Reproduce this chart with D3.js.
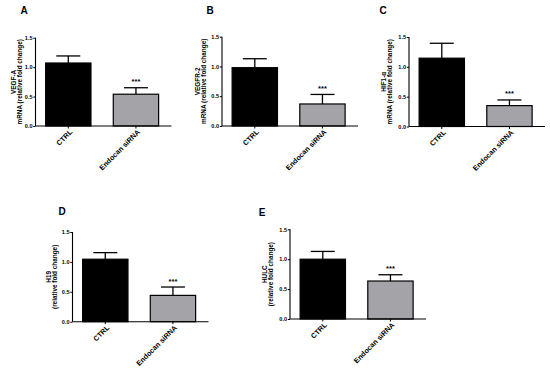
<!DOCTYPE html>
<html>
<head>
<meta charset="utf-8">
<script src="https://cdn.jsdelivr.net/npm/d3@7/dist/d3.min.js"></script>
<style>
	body { margin: 0; background: #fff; }
	svg { display: block; font-family: "Liberation Sans", Arial, sans-serif; font-weight: bold; }
</style>
</head>
<body>
<div id="chart"></div>
<script>
/* globals d3: false */

var w = 550;
var h = 371;

// data
var panel_letters = ["A", "B", "C", "D", "E"];
var gene_labels = ["VEGF-A", "VEGFR-2", "HIF1-\u03b1", "H19", "HULC"];
var unit_labels = ["mRNA (relative fold change)", "mRNA (relative fold change)", "mRNA (relative fold change)",
	"(relative fold change)", "(relative fold change)"];
var groups = ["CTRL", "Endocan siRNA"];
var ctrl_mean = [1.07, 0.98, 1.145, 1.045, 1.0];
var ctrl_err = [0.12, 0.15, 0.25, 0.11, 0.13];
var sirna_mean = [0.54, 0.37, 0.35, 0.44, 0.635];
var sirna_err = [0.11, 0.16, 0.095, 0.14, 0.105];
var y_ticks = [0, 0.5, 1.0, 1.5];
var sig_label = "***";

// panel placement (axis origin x, y of 0, y of 1.5, y-label offset, letter position)
var layout = [
	{x: 35.5, y0: 126, y1: 37.7, lab: 15.5, lx: 24, ly: 10},
	{x: 222, y0: 126, y1: 36.7, lab: 18.5, lx: 210, ly: 10},
	{x: 409, y0: 126.5, y1: 37, lab: 19.5, lx: 383, ly: 10},
	{x: 72.5, y0: 321.7, y1: 232, lab: 18, lx: 62, ly: 211},
	{x: 290, y0: 319, y1: 229.3, lab: 19, lx: 262, ly: 212}
];

var plot_w = 136;
var bar_colors = ["#000", "#a4a4a8"];
var cap_w = 24;
var font = "Liberation Sans, Arial, sans-serif";

var svg = d3.select("#chart").append("svg")
	.attr("width", w)
	.attr("height", h);

svg.append("rect").attr("width", w).attr("height", h).attr("fill", "#fff");

function drawPanel(i) {
	var L = layout[i];
	var g = svg.append("g");

	var x = d3.scaleBand()
		.domain(groups)
		.range([L.x, L.x + plot_w])
		.paddingInner(0.33)
		.paddingOuter(0.17)
		.align(0.44);

	var y = d3.scaleLinear()
		.domain([0, 1.5])
		.range([L.y0, L.y1]);

	var rows = [
		{g: groups[0], m: ctrl_mean[i], e: ctrl_err[i], c: bar_colors[0]},
		{g: groups[1], m: sirna_mean[i], e: sirna_err[i], c: bar_colors[1]}
	];

	// error bars (upper only)
	var eb = g.selectAll(".err").data(rows).enter().append("g");
	eb.append("line")
		.attr("x1", function(d) { return x(d.g) + x.bandwidth() / 2; })
		.attr("x2", function(d) { return x(d.g) + x.bandwidth() / 2; })
		.attr("y1", function(d) { return y(d.m); })
		.attr("y2", function(d) { return y(d.m + d.e); })
		.attr("stroke", "#000").attr("stroke-width", 1.3);
	eb.append("line")
		.attr("x1", function(d) { return x(d.g) + x.bandwidth() / 2 - cap_w / 2; })
		.attr("x2", function(d) { return x(d.g) + x.bandwidth() / 2 + cap_w / 2; })
		.attr("y1", function(d) { return y(d.m + d.e); })
		.attr("y2", function(d) { return y(d.m + d.e); })
		.attr("stroke", "#000").attr("stroke-width", 1.3);

	g.selectAll(".bar").data(rows).enter().append("rect")
		.attr("x", function(d) { return x(d.g); })
		.attr("y", function(d) { return y(d.m); })
		.attr("width", x.bandwidth())
		.attr("height", function(d) { return y(0) - y(d.m); })
		.attr("fill", function(d) { return d.c; })
		.attr("stroke", "#000")
		.attr("stroke-width", 1.2);

	// significance stars
	g.append("text")
		.attr("x", x(groups[1]) + x.bandwidth() / 2)
		.attr("y", y(rows[1].m + rows[1].e) - 3.5)
		.attr("text-anchor", "middle")
		.style("font-size", "7.5px")
		.text(sig_label);

	// y axis
	var ya = g.append("g")
		.attr("transform", "translate(" + L.x + ",0)")
		.call(d3.axisLeft(y).tickValues(y_ticks).tickFormat(d3.format(".1f")).tickSize(2.2).tickPadding(0.8));
	ya.select(".domain").attr("d", "M0," + y(1.5) + "V" + y(0)).attr("stroke-width", 1.1);
	ya.selectAll(".tick line").attr("stroke-width", 1);
	ya.selectAll("text").style("font-size", "5.5px").style("font-family", font).style("font-weight", "bold");

	// x axis
	var xa = g.append("g")
		.attr("transform", "translate(0," + L.y0 + ")")
		.call(d3.axisBottom(x).tickSize(2.5).tickSizeOuter(0));
	xa.select(".domain").attr("d", "M" + L.x + ",0H" + (L.x + plot_w)).attr("stroke-width", 1.1);
	xa.selectAll(".tick line").attr("stroke-width", 1);
	xa.selectAll("text")
		.style("font-size", "7.2px")
		.style("font-family", font)
		.style("font-weight", "bold")
		.attr("text-anchor", "end")
		.attr("dy", "0")
		.attr("transform", "translate(4.5,6.5) rotate(-45)")
		.attr("x", 0)
		.attr("y", 0);

	// y label (two lines)
	var ymid = (L.y0 + L.y1) / 2;
	var yl = g.append("text")
		.attr("transform", "translate(" + (L.x - L.lab + 2.2) + "," + ymid + ") rotate(-90)")
		.attr("text-anchor", "middle")
		.style("font-size", "6.4px");
	yl.append("tspan").attr("x", 0).attr("y", -6.2).text(gene_labels[i]);
	yl.append("tspan").attr("x", 0).attr("y", 0).text(unit_labels[i]);

	// panel letter
	g.append("text")
		.attr("x", L.lx)
		.attr("y", L.ly)
		.attr("text-anchor", "middle")
		.attr("dy", "0.35em")
		.style("font-size", "10px")
		.text(panel_letters[i]);
}

panel_letters.forEach(function(d, i) {
	drawPanel(i);
});
</script>
</body>
</html>
